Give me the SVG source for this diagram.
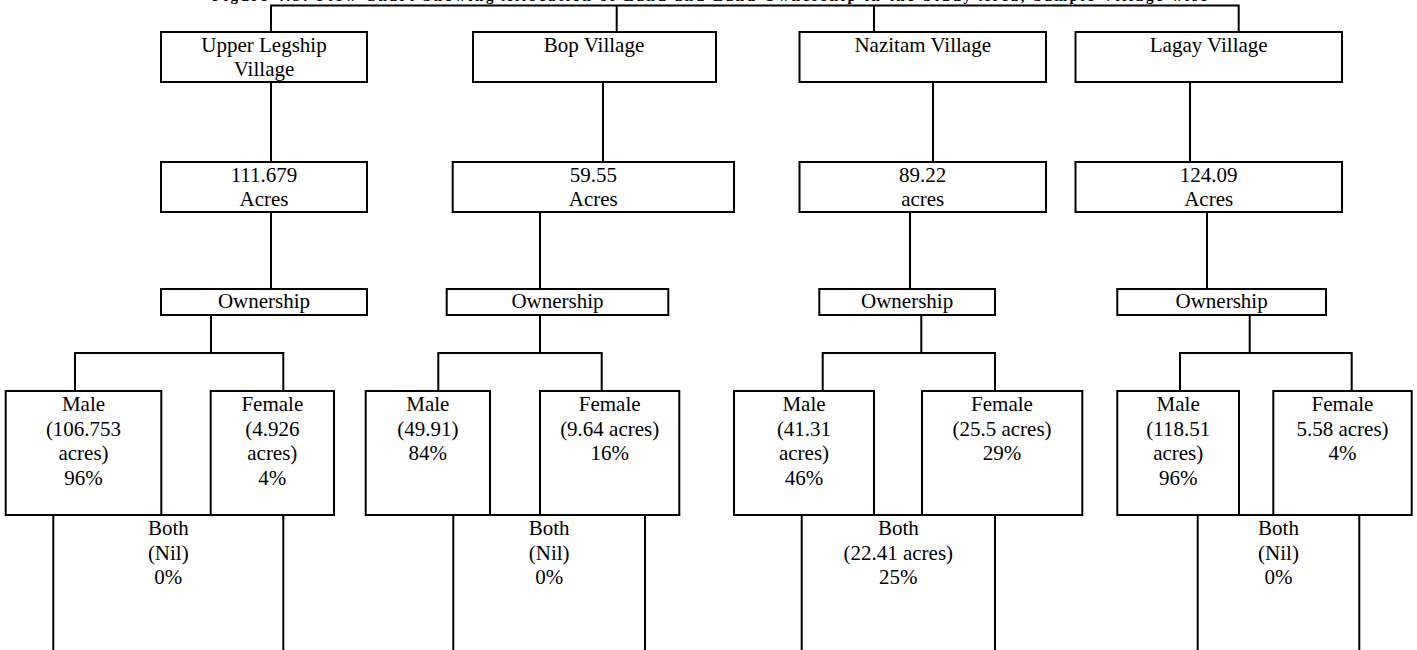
<svg xmlns="http://www.w3.org/2000/svg" width="1417" height="650" viewBox="0 0 1417 650">
<style>
.box{fill:#fff;stroke:#000;stroke-width:2}
.ln{fill:none;stroke:#000;stroke-width:2}
text{font-family:"Liberation Serif","Times New Roman",serif;font-size:21px;fill:#000;text-anchor:middle}
.title{font-weight:bold;font-size:15px;text-anchor:start}
</style>
<rect width="1417" height="650" fill="#fff"/>
<text class="title" x="212" y="1" textLength="995" lengthAdjust="spacing">Figure 4.3: Flow Chart Showing Allocation of Land and Land Ownership in the Study Area, Sample Village wise</text>

<g id="connectors" class="ln">
  <path d="M271,33 V5.5 H1238.7 V33"/>
  <path d="M616.7,5.5 V33 M874,5.5 V33"/>
  <path d="M271,82 V162 M603,82 V162 M933,82 V162 M1190,82 V162"/>
  <path d="M271,212 V289 M540,212 V289 M910,212 V289 M1207,212 V289"/>
  <path d="M211,315 V353 M75,391 V353 H283.3 V391"/>
  <path d="M540,315 V353 M438.3,391 V353 H601.7 V391"/>
  <path d="M921.3,315 V353 M822.7,391 V353 H995 V391"/>
  <path d="M1249.7,315 V353 M1180,391 V353 H1351.7 V391"/>
</g>

<g id="v-upper-legship">
  <rect class="box" x="161" y="32" width="206" height="50"/>
  <text x="264" y="51.5">Upper Legship</text>
  <text x="264" y="75.5">Village</text>
</g>
<g id="v-bop">
  <rect class="box" x="473" y="32" width="243" height="50"/>
  <text x="594" y="51.5">Bop Village</text>
</g>
<g id="v-nazitam">
  <rect class="box" x="799.5" y="32" width="246.5" height="50"/>
  <text x="922.7" y="51.5">Nazitam Village</text>
</g>
<g id="v-lagay">
  <rect class="box" x="1075.5" y="32" width="266.5" height="50"/>
  <text x="1208.7" y="51.5">Lagay Village</text>
</g>

<g id="a-upper-legship">
  <rect class="box" x="161" y="162" width="206" height="50"/>
  <text x="264" y="181.5">111.679</text>
  <text x="264" y="205.5">Acres</text>
</g>
<g id="a-bop">
  <rect class="box" x="452.7" y="162" width="281.3" height="50"/>
  <text x="593.3" y="181.5">59.55</text>
  <text x="593.3" y="205.5">Acres</text>
</g>
<g id="a-nazitam">
  <rect class="box" x="799.5" y="162" width="246.5" height="50"/>
  <text x="922.7" y="181.5">89.22</text>
  <text x="922.7" y="205.5">acres</text>
</g>
<g id="a-lagay">
  <rect class="box" x="1075.5" y="162" width="266.5" height="50"/>
  <text x="1208.7" y="181.5">124.09</text>
  <text x="1208.7" y="205.5">Acres</text>
</g>

<g id="o-upper-legship">
  <rect class="box" x="161" y="289" width="206" height="26"/>
  <text x="264" y="308">Ownership</text>
</g>
<g id="o-bop">
  <rect class="box" x="446.7" y="289" width="221.6" height="26"/>
  <text x="557.5" y="308">Ownership</text>
</g>
<g id="o-nazitam">
  <rect class="box" x="819.3" y="289" width="175.7" height="26"/>
  <text x="907.1" y="308">Ownership</text>
</g>
<g id="o-lagay">
  <rect class="box" x="1117.3" y="289" width="208.7" height="26"/>
  <text x="1221.6" y="308">Ownership</text>
</g>

<g id="both-upper-legship">
  <rect class="box" x="53.3" y="515" width="230" height="200"/>
  <text x="168.3" y="535">Both</text>
  <text x="168.3" y="559.5">(Nil)</text>
  <text x="168.3" y="584">0%</text>
</g>
<g id="m-upper-legship">
  <rect class="box" x="5.7" y="391" width="155.6" height="124"/>
  <text x="83.5" y="411">Male</text>
  <text x="83.5" y="435.5">(106.753</text>
  <text x="83.5" y="460">acres)</text>
  <text x="83.5" y="484.5">96%</text>
</g>
<g id="f-upper-legship">
  <rect class="box" x="210.7" y="391" width="123.3" height="124"/>
  <text x="272.3" y="411">Female</text>
  <text x="272.3" y="435.5">(4.926</text>
  <text x="272.3" y="460">acres)</text>
  <text x="272.3" y="484.5">4%</text>
</g>

<g id="both-bop">
  <rect class="box" x="453.3" y="515" width="191.7" height="200"/>
  <text x="549.2" y="535">Both</text>
  <text x="549.2" y="559.5">(Nil)</text>
  <text x="549.2" y="584">0%</text>
</g>
<g id="m-bop">
  <rect class="box" x="365.7" y="391" width="124.3" height="124"/>
  <text x="427.8" y="411">Male</text>
  <text x="427.8" y="435.5">(49.91)</text>
  <text x="427.8" y="460">84%</text>
</g>
<g id="f-bop">
  <rect class="box" x="540" y="391" width="139.3" height="124"/>
  <text x="609.7" y="411">Female</text>
  <text x="609.7" y="435.5">(9.64 acres)</text>
  <text x="609.7" y="460">16%</text>
</g>

<g id="both-nazitam">
  <rect class="box" x="801.7" y="515" width="193.3" height="200"/>
  <text x="898.3" y="535">Both</text>
  <text x="898.3" y="559.5">(22.41 acres)</text>
  <text x="898.3" y="584">25%</text>
</g>
<g id="m-nazitam">
  <rect class="box" x="734" y="391" width="140" height="124"/>
  <text x="804" y="411">Male</text>
  <text x="804" y="435.5">(41.31</text>
  <text x="804" y="460">acres)</text>
  <text x="804" y="484.5">46%</text>
</g>
<g id="f-nazitam">
  <rect class="box" x="922" y="391" width="160.3" height="124"/>
  <text x="1002" y="411">Female</text>
  <text x="1002" y="435.5">(25.5 acres)</text>
  <text x="1002" y="460">29%</text>
</g>

<g id="both-lagay">
  <rect class="box" x="1197.7" y="515" width="161.6" height="200"/>
  <text x="1278.5" y="535">Both</text>
  <text x="1278.5" y="559.5">(Nil)</text>
  <text x="1278.5" y="584">0%</text>
</g>
<g id="m-lagay">
  <rect class="box" x="1117.3" y="391" width="121.7" height="124"/>
  <text x="1178.2" y="411">Male</text>
  <text x="1178.2" y="435.5">(118.51</text>
  <text x="1178.2" y="460">acres)</text>
  <text x="1178.2" y="484.5">96%</text>
</g>
<g id="f-lagay">
  <rect class="box" x="1273.3" y="391" width="138.4" height="124"/>
  <text x="1342.5" y="411">Female</text>
  <text x="1342.5" y="435.5">5.58 acres)</text>
  <text x="1342.5" y="460">4%</text>
</g>
</svg>
